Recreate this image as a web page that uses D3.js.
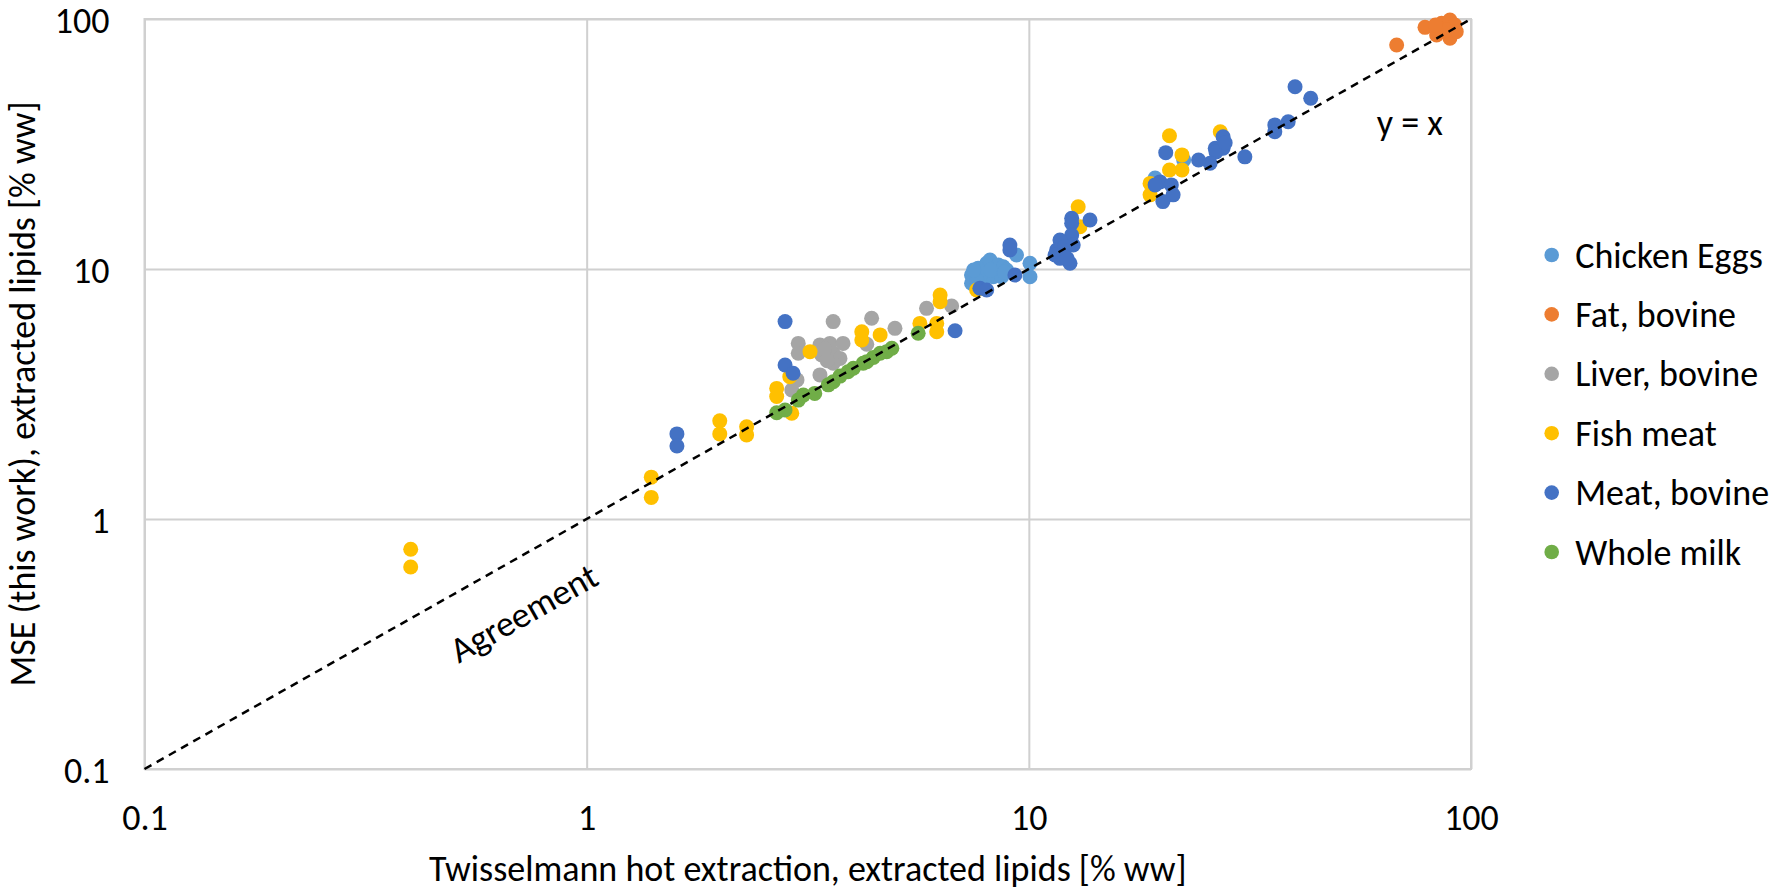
<!DOCTYPE html>
<html>
<head>
<meta charset="utf-8">
<script src="https://cdn.jsdelivr.net/npm/d3@7"></script>
<style>
  html, body { margin: 0; padding: 0; background: #fff; }
  svg { display: block; }
  text { font-family: Carlito, Calibri, Lato, "Open Sans", sans-serif; fill: #000; }
</style>
</head>
<body>
<svg id="chart" width="1769" height="891"></svg>
<script>
// ---------- data ----------
const tickValues = [0.1, 1, 10, 100];
const tickLabels = ["0.1", "1", "10", "100"];
const seriesNames = ["Chicken Eggs", "Fat, bovine", "Liver, bovine", "Fish meat", "Meat, bovine", "Whole milk"];
const seriesColors = ["#5B9BD5", "#ED7D31", "#A5A5A5", "#FFC000", "#4472C4", "#70AD47"];

// [Twisselmann %, MSE %]
const chickenEggs = [
  [7.42,9.46],[7.68,10.07],[8.03,10.54],[8.17,10.86],[8.53,10.38],[8.75,10.21],[8.91,9.91],
  [7.42,8.77],[7.89,9.04],[8.31,9.31],[8.68,9.31],[9.38,11.38],[10.06,10.54],[10.06,9.31],
  [7.89,9.75],[7.62,9.04],[8.2,9.9],[7.5,9.9],[8.8,9.7],[19.3,23.1],[22.4,27.3]
];
const fatBovine = [
  [67.9,78.7],[78.7,92.6],[83.6,86.3],[85.8,96.1],[89.6,99.1],[89.6,83.7],[91.9,94.6],
  [92.6,89.0],[88.0,90.4],[83.1,94.6]
];
const liverBovine = [
  [3.01,5.04],[3.01,4.60],[3.37,4.97],[3.55,5.04],[3.61,4.60],[3.80,5.04],[3.74,4.39],
  [3.40,4.53],[3.61,4.20],[3.37,3.77],[2.99,3.60],[2.91,3.28],[3.61,6.16],[4.41,6.35],
  [4.98,5.79],[5.87,6.96],[6.69,7.11],[3.5,4.3],[3.45,4.8],[4.3,5.0]
];
const fishMeat = [
  [0.40,0.757],[0.40,0.643],[1.40,1.47],[1.40,1.22],[2.00,2.47],[2.00,2.19],[2.30,2.34],
  [2.30,2.17],[2.91,2.65],[2.69,3.33],[2.69,3.09],[3.20,4.67],[4.19,5.61],[4.19,5.20],
  [4.61,5.45],[6.30,7.40],[6.30,7.87],[5.67,6.06],[6.19,6.06],[6.19,5.61],[2.88,3.71],
  [7.62,8.24],[12.93,17.75],[13.05,14.76],[20.8,34.1],[27.1,35.4],[22.2,28.6],[20.8,24.9],
  [22.2,24.9],[18.8,22.0],[18.8,19.8]
];
const meatBovine = [
  [1.60,2.19],[1.60,1.96],[2.81,6.16],[2.81,4.13],[2.93,3.83],[6.81,5.66],[9.06,12.47],
  [9.06,11.91],[9.30,9.46],[7.75,8.37],[8.03,8.24],[12.50,15.95],[12.50,15.24],[13.75,15.70],
  [12.50,13.68],[11.76,13.06],[11.56,11.91],[12.06,12.29],[12.60,12.47],[11.76,11.03],
  [12.39,10.54],[11.46,11.38],[12.2,11.03],[40.0,53.6],[43.4,48.2],[36.0,37.7],[38.6,38.8],
  [36.0,35.4],[30.8,28.1],[27.5,33.8],[26.4,30.4],[27.5,30.4],[26.5,29.4],[25.7,26.5],
  [24.2,27.3],[20.4,29.2],[19.8,22.3],[21.0,21.7],[21.2,19.8],[20.1,18.6],[19.3,21.7],[27.8,32.0]
];
const wholeMilk = [
  [2.69,2.66],[2.81,2.73],[3.01,2.99],[3.09,3.13],[3.28,3.18],[3.52,3.44],[3.61,3.54],
  [3.74,3.73],[3.90,3.88],[4.01,4.01],[4.22,4.20],[4.30,4.26],[4.45,4.43],[4.61,4.60],
  [4.77,4.67],[4.90,4.82],[5.62,5.53]
];
const seriesData = [chickenEggs, fatBovine, liverBovine, fishMeat, meatBovine, wholeMilk];
const agreementLine = [[0.1, 0.1], [100, 100]];

// ---------- layout ----------
const svg = d3.select("#chart");
const plot = { left: 144.5, right: 1471, top: 19, bottom: 769 };
const x = d3.scaleLog().domain([0.1, 100]).range([plot.left, plot.right]);
const y = d3.scaleLog().domain([0.1, 100]).range([plot.bottom, plot.top]);
const gridColor = "#D0D0D0";
const fontAxis = 36;

// gridlines
const gx = svg.append("g").attr("transform", `translate(0,${plot.bottom})`)
  .call(d3.axisBottom(x).tickValues(tickValues).tickSize(-(plot.bottom - plot.top)).tickFormat(""));
gx.select(".domain").remove();
gx.selectAll("line").attr("stroke", gridColor).attr("stroke-width", 2);

const gy = svg.append("g").attr("transform", `translate(${plot.left},0)`)
  .call(d3.axisLeft(y).tickValues(tickValues).tickSize(-(plot.right - plot.left)).tickFormat(""));
gy.select(".domain").remove();
gy.selectAll("line").attr("stroke", gridColor).attr("stroke-width", 2);

svg.append("rect")
  .attr("x", plot.left).attr("y", plot.top)
  .attr("width", plot.right - plot.left).attr("height", plot.bottom - plot.top)
  .attr("fill", "none").attr("stroke", gridColor).attr("stroke-width", 2);

// tick labels
const xl = svg.append("g").attr("transform", `translate(0,${plot.bottom})`)
  .call(d3.axisBottom(x).tickValues(tickValues).tickSize(0).tickPadding(0)
    .tickFormat((d, i) => tickLabels[i]));
xl.select(".domain").remove();
xl.selectAll("text").attr("font-size", fontAxis).attr("dy", null).attr("y", 61)
  .attr("font-family", null);

const yl = svg.append("g").attr("transform", `translate(${plot.left},0)`)
  .call(d3.axisLeft(y).tickValues(tickValues).tickSize(0).tickPadding(0)
    .tickFormat((d, i) => tickLabels[i]));
yl.select(".domain").remove();
yl.selectAll("text").attr("font-size", fontAxis).attr("x", -35).attr("dy", "0.37em")
  .attr("font-family", null);

// axis titles
svg.append("text")
  .attr("x", (plot.left + plot.right) / 2).attr("y", 881)
  .attr("text-anchor", "middle").attr("font-size", fontAxis)
  .text("Twisselmann hot extraction, extracted lipids [% ww]");

svg.append("text")
  .attr("transform", `translate(35,${(plot.top + plot.bottom) / 2}) rotate(-90)`)
  .attr("text-anchor", "middle").attr("font-size", fontAxis)
  .text("MSE (this work), extracted lipids [% ww]");

// points
const r = 7.5;
seriesData.forEach((data, si) => {
  svg.append("g").selectAll("circle").data(data).join("circle")
    .attr("cx", d => x(d[0])).attr("cy", d => y(d[1]))
    .attr("r", r).attr("fill", seriesColors[si]);
});

// agreement line
svg.append("path")
  .datum(agreementLine)
  .attr("d", d3.line().x(d => x(d[0])).y(d => y(d[1])))
  .attr("fill", "none").attr("stroke", "#000").attr("stroke-width", 2.5)
  .attr("stroke-dasharray", "8,6");

// annotations
const angle = Math.atan2(y(1) - y(10), x(10) - x(1)) * 180 / Math.PI;
svg.append("text")
  .attr("transform", `translate(${x(0.72)},${y(0.72) + 58}) rotate(${-angle})`)
  .attr("text-anchor", "middle").attr("dy", "0.35em").attr("font-size", fontAxis)
  .text("Agreement");
svg.append("text")
  .attr("x", x(72.7)).attr("y", y(38.7)).attr("dy", "0.35em")
  .attr("text-anchor", "middle").attr("font-size", fontAxis)
  .text("y = x");

// legend
const legend = svg.append("g");
const legendTop = 255, legendStep = 59.4;
seriesNames.forEach((name, i) => {
  const g = legend.append("g").attr("transform", `translate(1551.7,${legendTop + i * legendStep})`);
  g.append("circle").attr("r", 7.3).attr("fill", seriesColors[i]);
  g.append("text").attr("x", 23.5).attr("y", 12.5).attr("font-size", fontAxis).text(name);
});
</script>
</body>
</html>
